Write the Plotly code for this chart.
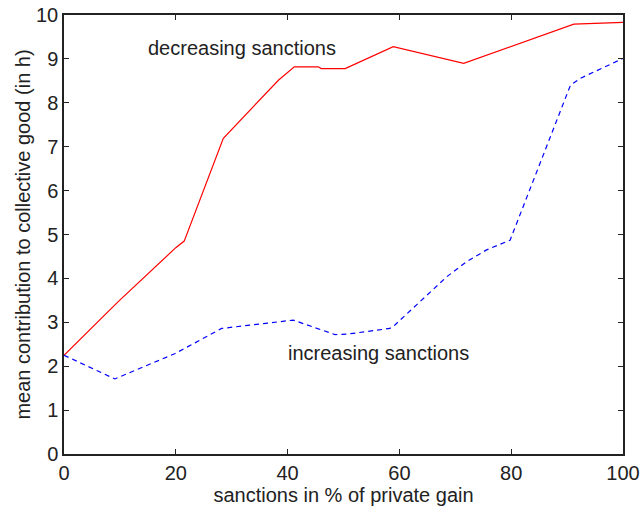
import plotly.graph_objects as go

dec_x = [0, 9.7, 20, 21.5, 28.5, 38.4, 41.2, 45.5, 46, 50.3, 58.9, 71.5, 91.2, 95.9, 100]
dec_y = [2.25, 3.47, 4.7, 4.85, 7.19, 8.52, 8.82, 8.82, 8.78, 8.78, 9.28, 8.9, 9.79, 9.81, 9.83]

inc_x = [0, 9.1, 19.9, 28.2, 41, 48.5, 50.6, 58.3, 59.2, 68.5, 72, 75.6, 79.8, 90.6, 92.4, 100]
inc_y = [2.25, 1.71, 2.29, 2.86, 3.05, 2.72, 2.73, 2.86, 2.94, 4.04, 4.38, 4.65, 4.87, 8.4, 8.56, 9.01]

x_ticks = [0, 20, 40, 60, 80, 100]
y_ticks = list(range(0, 11))

FONT = "Liberation Sans, Arial, sans-serif"
FS = 20

fig = go.Figure()
fig.add_trace(go.Scatter(x=dec_x, y=dec_y, mode="lines",
                         line=dict(color="#ff0000", width=1.2), showlegend=False))
fig.add_trace(go.Scatter(x=inc_x, y=inc_y, mode="lines",
                         line=dict(color="#0000ff", width=1.2, dash="5px,4px"), showlegend=False))

fig.add_annotation(x=31.9, y=9.25, text="decreasing sanctions", showarrow=False,
                   font=dict(family=FONT, size=FS, color="#222"))
fig.add_annotation(x=56.2, y=2.3, text="increasing sanctions", showarrow=False,
                   font=dict(family=FONT, size=FS, color="#222"))

axis_common = dict(showgrid=False, zeroline=False, showline=True, linecolor="#222",
                   linewidth=1.5, mirror="ticks", ticks="inside", ticklen=5,
                   tickcolor="#222", automargin=False, ticklabeloverflow="allow",
                   tickfont=dict(family=FONT, size=FS, color="#222"))

fig.update_xaxes(range=[0, 100], tickvals=x_ticks,
                 title=dict(text="sanctions in % of private gain", standoff=2,
                            font=dict(family=FONT, size=FS, color="#222")),
                 **axis_common)
fig.update_yaxes(range=[0, 10], tickvals=y_ticks,
                 title=dict(text="mean contribution to collective good (in h)", standoff=0,
                            font=dict(family=FONT, size=FS, color="#222")),
                 **axis_common)

fig.update_layout(width=642, height=511, plot_bgcolor="white", paper_bgcolor="white",
                  margin=dict(l=64, r=19, t=15, b=57))
fig.write_html("out.html", config={"displayModeBar": False},
               post_script="document.body.style.margin='0';document.body.style.overflow='hidden';")
